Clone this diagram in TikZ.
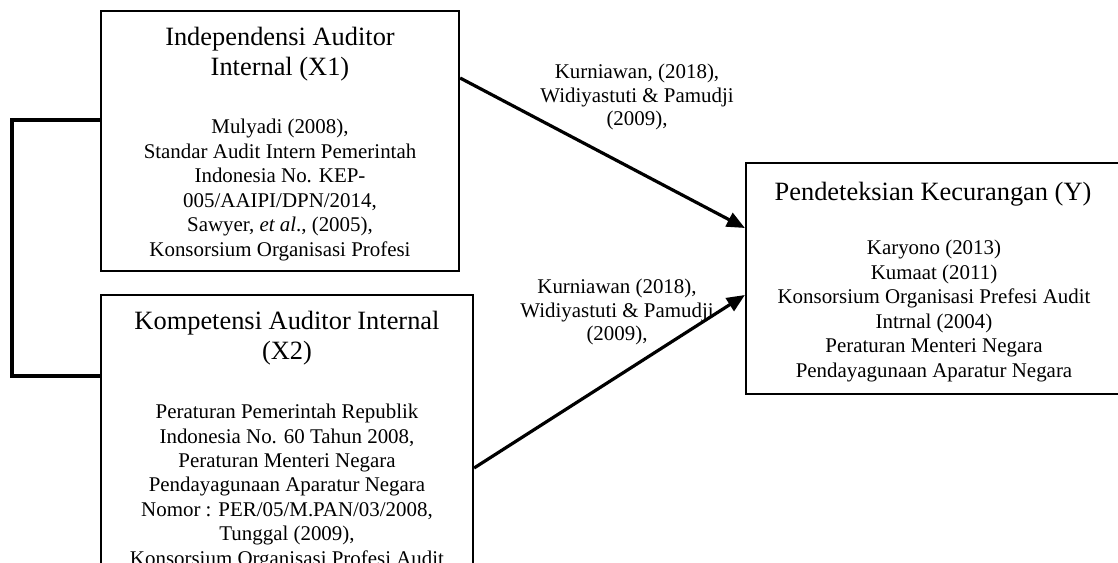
\documentclass[tikz,border=0pt]{standalone}
\usepackage{fontspec}
\setmainfont{Liberation Serif}
\usetikzlibrary{arrows.meta}
\tikzset{
  boxnode/.style={draw, line width=2.2bp, rectangle, inner sep=0pt},
  titletext/.style={align=center, inner sep=0pt, font=\fontsize{26.5}{30}\selectfont},
  bodytext/.style={align=center, inner sep=0pt, font=\fontsize{21}{24.5}\selectfont},
  labeltext/.style={align=center, inner sep=0pt, font=\fontsize{21}{24}\selectfont},
  linkarrow/.style={line width=3.2bp, -{Triangle[length=18bp,width=15bp]}},
  bracketline/.style={line width=3.4bp, line join=miter}
}
\begin{document}
\begin{tikzpicture}[x=1bp,y=-1bp]
\useasboundingbox (0,0) rectangle (1118,563);
% boxes
\node[boxnode, minimum width=358bp, minimum height=260bp] (b1) at (280,141) {};
\node[boxnode, minimum width=372bp, minimum height=330bp] (b2) at (287,460) {};
\node[boxnode, minimum width=390bp, minimum height=231bp] (by) at (941,278.5) {};
% texts box 1
\node[titletext] (t1) at (280,54) {Independensi Auditor\\Internal (X1)};
\node[bodytext] (s1) at (280,190) {Mulyadi (2008),\\Standar Audit Intern Pemerintah\\Indonesia No. KEP-\\005/AAIPI/DPN/2014,\\Sawyer, \textit{et al}., (2005),\\Konsorsium Organisasi Profesi};
% texts box 2
\node[titletext] (t2) at (287,338) {Kompetensi Auditor Internal\\(X2)};
\node[bodytext, anchor=north] (s2) at (287,404) {Peraturan Pemerintah Republik\\Indonesia No. 60 Tahun 2008,\\Peraturan Menteri Negara\\Pendayagunaan Aparatur Negara\\Nomor : PER/05/M.PAN/03/2008,\\Tunggal (2009),\\Konsorsium Organisasi Profesi Audit};
% texts box Y
\node[titletext] (ty) at (933,194) {Pendeteksian Kecurangan (Y)};
\node[bodytext] (sy) at (934,311) {Karyono (2013)\\Kumaat (2011)\\Konsorsium Organisasi Prefesi Audit\\Intrnal (2004)\\Peraturan Menteri Negara\\Pendayagunaan Aparatur Negara};
% labels
\node[labeltext] (l1) at (637,97) {Kurniawan, (2018),\\Widiyastuti \& Pamudji\\(2009),};
\node[labeltext] (l2) at (617,312) {Kurniawan (2018),\\Widiyastuti \& Pamudji\\(2009),};
% arrows
\coordinate (a1s) at (b1.east |- 0,78);
\coordinate (a1e) at (by.west |- 0,228);
\coordinate (a2s) at (b2.east |- 0,468);
\coordinate (a2e) at (by.west |- 0,295);
\draw[linkarrow] (a1s) -- (a1e);
\draw[linkarrow] (a2s) -- (a2e);
% bracket
\coordinate (k1) at (12,120);
\coordinate (k2) at (12,376);
\draw[bracketline] (b1.west |- k1) -- (k1) -- (k2) -- (b2.west |- k2);
\end{tikzpicture}
\end{document}
